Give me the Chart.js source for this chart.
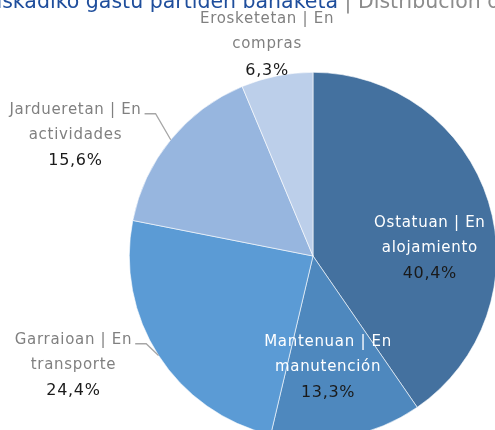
<!DOCTYPE html>
<html>
<head>
<meta charset="utf-8">
<script src="https://cdn.jsdelivr.net/npm/chart.js@4"></script>
<style>
  html, body { margin: 0; padding: 0; background: #fff; overflow: hidden; }
  #wrap { position: relative; width: 495px; height: 430px; overflow: hidden; }
  #chart { position: absolute; left: 0; top: 0; }
</style>
</head>
<body>
<div id="wrap"><canvas id="chart" width="520" height="460"></canvas></div>
<script>
// data
const labelsEu = ["Ostatuan", "Mantenuan", "Garraioan", "Jardueretan", "Erosketetan"];
const labelsEs = ["alojamiento", "manutención", "transporte", "actividades", "compras"];
const shares = [40.4, 13.3, 24.4, 15.6, 6.3];
const colors = ["#44719f", "#4e88be", "#5b9bd5", "#97b6df", "#bccfea"];

const titleEu = "Euskadiko gastu partiden banaketa";
const titleEs = " | Distribución de partidas de gasto";

// label placement, relative to pie centre in units of radius
const labelLayout = [
  { fx: 0.636, fy: -0.043, inside: true },
  { fx: 0.082, fy: 0.603, inside: true },
  { fx: -1.304, fy: 0.592, inside: false, leader: true },
  { fx: -1.293, fy: -0.66, inside: false, leader: true },
  { fx: -0.25, fy: -1.152, inside: false, leader: false }
];

const FONT = '"DejaVu Sans", sans-serif';

const labelPlugin = {
  id: 'pieLabels',
  afterDatasetsDraw(chart) {
    const ctx = chart.ctx;
    const meta = chart.getDatasetMeta(0);
    ctx.save();
    meta.data.forEach((arc, i) => {
      const p = arc.getProps(['x', 'y', 'startAngle', 'endAngle', 'outerRadius'], true);
      const r = p.outerRadius;
      const L = labelLayout[i];
      const lx = p.x + L.fx * r;
      const ly = p.y + L.fy * r;
      const line1 = labelsEu[i] + " | En";
      const line2 = labelsEs[i];
      const pct = shares[i].toFixed(1).replace('.', ',') + "%";
      const gap = 25;

      ctx.textAlign = 'center';
      ctx.textBaseline = 'middle';
      ctx.letterSpacing = '0.7px';
      ctx.font = '15px ' + FONT;
      ctx.fillStyle = L.inside ? '#ffffff' : '#808080';
      ctx.fillText(line1, lx, ly - gap);
      ctx.fillText(line2, lx, ly);
      ctx.font = '16px ' + FONT;
      ctx.fillStyle = '#1a1a1a';
      ctx.fillText(pct, lx, ly + gap + 1);

      if (L.leader) {
        const mid = (p.startAngle + p.endAngle) / 2;
        const ex = p.x + Math.cos(mid) * r;
        const ey = p.y + Math.sin(mid) * r;
        ctx.font = '15px ' + FONT;
        const w = ctx.measureText(line1).width;
        const sx = lx + w / 2 + 3;
        const yy = ly - gap + 4;
        const elbowX = sx + 11;
        ctx.strokeStyle = '#a6a6a6';
        ctx.lineWidth = 1.3;
        ctx.beginPath();
        ctx.moveTo(sx, yy);
        ctx.lineTo(elbowX, yy);
        ctx.lineTo(ex, ey);
        ctx.stroke();
      }
    });

    // title (partly cropped at top of the picture)
    ctx.letterSpacing = '0px';
    ctx.textBaseline = 'alphabetic';
    ctx.font = '20.5px ' + FONT;
    ctx.textAlign = 'right';
    ctx.fillStyle = '#1f4e9c';
    ctx.fillText(titleEu, 338, 8);
    ctx.textAlign = 'left';
    ctx.fillStyle = '#8c8c8c';
    ctx.fillText(titleEs, 338, 8);
    ctx.restore();
  }
};

new Chart(document.getElementById('chart'), {
  type: 'pie',
  data: {
    labels: labelsEu,
    datasets: [{
      data: shares,
      backgroundColor: colors,
      borderColor: '#ffffff',
      borderWidth: 0.6
    }]
  },
  options: {
    responsive: false,
    animation: false,
    devicePixelRatio: 1,
    layout: { padding: { left: 129, right: 23, top: 72, bottom: 20 } },
    plugins: {
      legend: { display: false },
      tooltip: { enabled: false },
      title: { display: false }
    }
  },
  plugins: [labelPlugin]
});
</script>
</body>
</html>
